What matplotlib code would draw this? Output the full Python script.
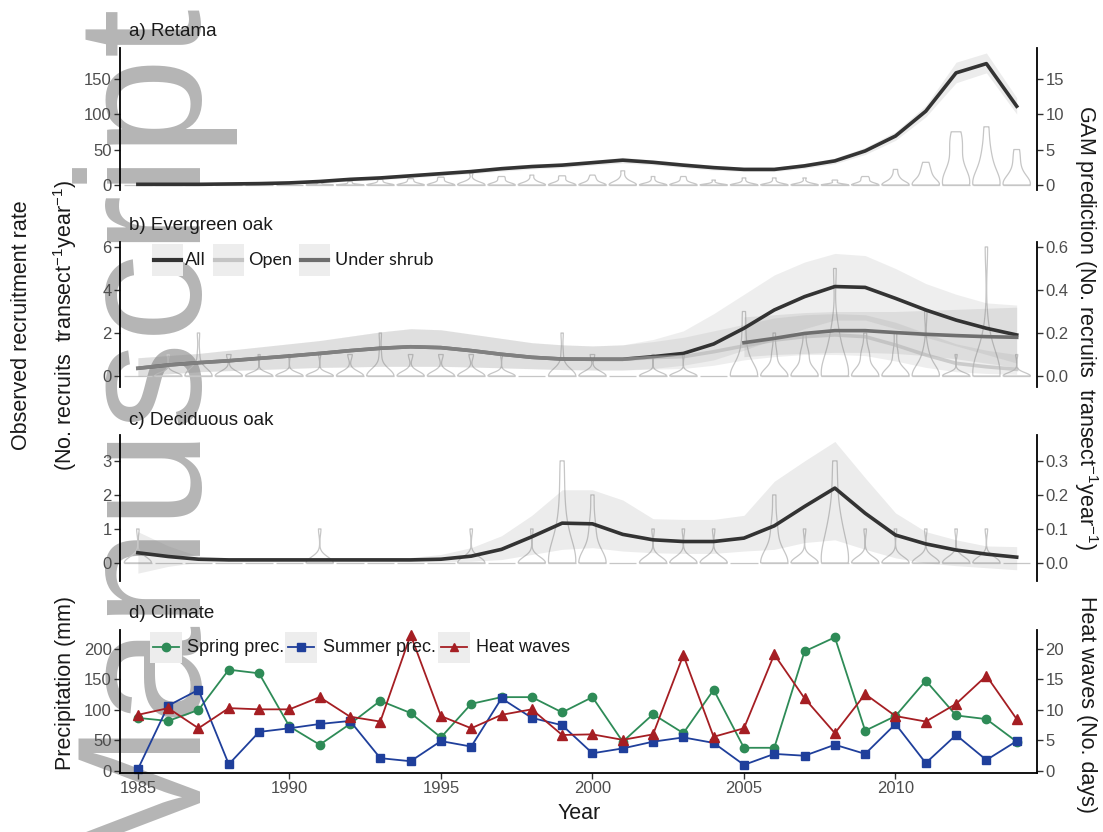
import numpy as np
import matplotlib
matplotlib.use("Agg")
import matplotlib.pyplot as plt
from matplotlib.lines import Line2D
from matplotlib.patches import Rectangle
from matplotlib.ticker import FormatStrFormatter

plt.rcParams["font.family"] = ["Liberation Sans", "DejaVu Sans"]
plt.rcParams["mathtext.fontset"] = "custom"
plt.rcParams["mathtext.rm"] = "Liberation Sans"
plt.rcParams["mathtext.default"] = "regular"

W, H = 1103, 832
SCALE = 10          # observed axis = 10 x prediction axis

years = list(range(1985, 2015))
shrub_years = list(range(2005, 2015))

# a) Retama: GAM prediction (recruits transect-1 year-1)
a_gam = [0.1, 0.1, 0.1, 0.15, 0.2, 0.3, 0.5, 0.8, 1.0, 1.3, 1.6, 1.9, 2.3, 2.6, 2.8,
         3.15, 3.5, 3.2, 2.8, 2.45, 2.2, 2.2, 2.7, 3.4, 4.8, 6.9, 10.4, 15.8, 17.1, 11.1]
a_lo = [0.0, 0.0, 0.0, 0.05, 0.1, 0.15, 0.3, 0.55, 0.75, 1.0, 1.3, 1.6, 1.95, 2.25, 2.45,
        2.8, 3.1, 2.85, 2.45, 2.1, 1.9, 1.9, 2.35, 3.0, 4.3, 6.3, 9.6, 14.4, 15.8, 10.0]
a_hi = [0.3, 0.3, 0.3, 0.3, 0.35, 0.45, 0.7, 1.05, 1.3, 1.6, 1.9, 2.2, 2.65, 2.95, 3.15,
        3.5, 3.9, 3.55, 3.15, 2.8, 2.5, 2.5, 3.05, 3.8, 5.3, 7.5, 11.2, 17.3, 18.6, 12.3]
# observed non-zero transect counts per year (rest of transects are zero)
a_counts = [[], [], [], [], [], [],
            [2, 4], [3, 5], [2, 5, 8], [3, 6, 9], [4, 8, 11], [3, 6, 17], [5, 9, 12],
            [4, 7, 14], [5, 10, 13], [6, 9, 14], [5, 10, 20], [6, 12], [4, 8, 12], [3, 7],
            [5, 10], [5, 10], [4, 10], [5, 7], [6, 9, 12], [8, 12, 22], [10, 16, 22, 32],
            [15, 25, 55, 58, 75], [20, 35, 50, 82], [10, 20, 35, 50]]

# b) Evergreen oak
b_all = [0.036, 0.051, 0.062, 0.071, 0.082, 0.093, 0.105, 0.118, 0.129, 0.136, 0.132, 0.118,
         0.101, 0.087, 0.079, 0.078, 0.078, 0.090, 0.105, 0.149, 0.222, 0.307, 0.369, 0.416,
         0.412, 0.361, 0.307, 0.260, 0.222, 0.191]
b_all_lo = [0.0, 0.01, 0.02, 0.025, 0.03, 0.035, 0.04, 0.042, 0.045, 0.045, 0.045, 0.042,
            0.038, 0.034, 0.030, 0.028, 0.028, 0.035, 0.050, 0.075, 0.120, 0.170, 0.220, 0.260,
            0.260, 0.220, 0.180, 0.140, 0.100, 0.060]
b_all_hi = [0.085, 0.095, 0.105, 0.120, 0.135, 0.150, 0.165, 0.185, 0.205, 0.220, 0.215, 0.195,
            0.175, 0.155, 0.145, 0.140, 0.145, 0.170, 0.210, 0.290, 0.380, 0.470, 0.530, 0.570,
            0.560, 0.500, 0.430, 0.380, 0.340, 0.330]
b_open = [0.036, 0.051, 0.062, 0.071, 0.082, 0.093, 0.105, 0.118, 0.129, 0.136, 0.132, 0.118,
          0.101, 0.087, 0.079, 0.078, 0.078, 0.086, 0.090, 0.113, 0.140, 0.167, 0.183, 0.191,
          0.183, 0.144, 0.098, 0.059, 0.043, 0.031]
b_open_lo = [0.0, 0.01, 0.02, 0.025, 0.03, 0.035, 0.04, 0.042, 0.045, 0.045, 0.045, 0.042,
             0.038, 0.034, 0.030, 0.028, 0.028, 0.032, 0.035, 0.050, 0.075, 0.090, 0.100, 0.100,
             0.095, 0.070, 0.040, 0.020, 0.012, 0.008]
b_open_hi = [0.085, 0.095, 0.105, 0.120, 0.135, 0.150, 0.165, 0.185, 0.205, 0.220, 0.215, 0.195,
             0.175, 0.155, 0.145, 0.140, 0.145, 0.160, 0.180, 0.210, 0.240, 0.270, 0.285, 0.290,
             0.285, 0.250, 0.200, 0.150, 0.120, 0.100]
b_shrub = [0.155, 0.175, 0.198, 0.211, 0.211, 0.202, 0.194, 0.188, 0.183, 0.180]
b_shrub_lo = [0.09, 0.10, 0.105, 0.11, 0.11, 0.105, 0.095, 0.08, 0.06, 0.04]
b_shrub_hi = [0.275, 0.285, 0.295, 0.30, 0.30, 0.30, 0.305, 0.31, 0.315, 0.32]
b_counts = [[], [1], [1, 2], [1, 1], [1], [1], [1], [1, 1], [1, 2], [1, 1], [1, 1], [1, 1],
            [1], [], [1, 2], [1, 1], [], [1], [1], [], [1, 1, 2, 3], [1, 1, 2], [1, 1, 1, 2],
            [1, 1, 2, 2, 5], [1, 1, 1, 2], [1, 1, 2], [1, 1, 3], [1], [1, 1, 2, 6], [1]]

# c) Deciduous oak
c_gam = [0.030, 0.019, 0.011, 0.009, 0.009, 0.009, 0.009, 0.009, 0.009, 0.009, 0.011, 0.020,
         0.040, 0.077, 0.117, 0.115, 0.084, 0.068, 0.063, 0.063, 0.073, 0.109, 0.166, 0.220,
         0.146, 0.082, 0.056, 0.038, 0.026, 0.017]
c_lo = [-0.030, -0.010, 0.002, 0.003, 0.003, 0.003, 0.003, 0.003, 0.003, 0.003, 0.003, 0.005,
        0.010, 0.025, 0.040, 0.045, 0.035, 0.030, 0.028, 0.028, 0.035, 0.040, 0.060, 0.068,
        0.040, 0.015, 0.000, -0.008, -0.014, -0.020]
c_hi = [0.092, 0.050, 0.020, 0.015, 0.015, 0.015, 0.015, 0.015, 0.015, 0.016, 0.025, 0.045,
        0.080, 0.140, 0.215, 0.215, 0.185, 0.130, 0.128, 0.128, 0.140, 0.240, 0.300, 0.357,
        0.250, 0.147, 0.092, 0.068, 0.050, 0.048]
c_counts = [[1], [], [], [], [], [], [1], [], [], [], [], [1], [], [1], [1, 1, 2, 3], [1, 1, 2],
            [], [1], [1], [1], [], [1, 1, 2], [1], [1, 1, 1, 2, 3], [1], [1], [1], [1], [1], []]

# d) Climate
spring = [87, 82, 100, 166, 160, 73, 43, 77, 115, 95, 55, 110, 121, 121, 96,
          121, 48, 93, 62, 133, 38, 38, 196, 219, 66, 90, 148, 91, 85, 48]
summer = [3, 107, 133, 11, 64, 70, 77, 82, 21, 16, 49, 40, 119, 87, 75,
          29, 37, 48, 55, 46, 10, 28, 25, 43, 28, 77, 13, 59, 18, 49]
heat = [9.2, 10.3, 7.0, 10.3, 10.1, 10.1, 12.1, 8.9, 8.1, 22.3, 9.0, 7.0, 9.2, 10.1, 5.9,
        6.0, 5.1, 6.0, 19.0, 5.6, 7.0, 19.1, 11.9, 6.2, 12.6, 9.0, 8.1, 11.0, 15.6, 8.5]

DARK, OPEN_C, SHRUB_C = "#333333", "#b4b4b4", "#6e6e6e"
VIOLIN = "#c6c6c6"
GREEN, BLUE, RED = "#2e8b57", "#1f3f9b", "#a51e23"
KEYBG = "#ededed"
LABEL_SIZE = 15.5

fig = plt.figure(figsize=(W / 100, H / 100), dpi=100)
fig.patch.set_facecolor("white")

# journal watermark, behind everything
fig.text(186 / W, 1 - 856 / H, "Manuscript", rotation=90, rotation_mode="anchor",
         ha="left", va="baseline", fontsize=127, color="#b5b5b5", zorder=-5)


def panel(top, bottom, ylim, yticks, rticks, rfmt, xaxis=False):
    ax = fig.add_axes([120 / W, 1 - bottom / H, 917 / W, (bottom - top) / H])
    ax.set_facecolor("none")
    ax.set_xlim(1984.41, 2014.67)
    ax.set_ylim(*ylim)
    ax.set_yticks(yticks)
    rax = ax.twinx()
    rax.set_ylim(ylim[0] / SCALE, ylim[1] / SCALE)
    rax.set_yticks(rticks)
    rax.yaxis.set_major_formatter(FormatStrFormatter(rfmt))
    for s in ["top", "bottom", "right"]:
        ax.spines[s].set_visible(False)
    for s in ["top", "bottom", "left"]:
        rax.spines[s].set_visible(False)
    if xaxis:
        ax.spines["bottom"].set_visible(True)
        ax.set_xticks([1985, 1990, 1995, 2000, 2005, 2010])
    else:
        ax.tick_params(axis="x", bottom=False, labelbottom=False)
    for a in (ax, rax):
        a.tick_params(length=4, width=1, color="#333333", labelcolor="#4d4d4d",
                      labelsize=12, pad=2)
        for sp in a.spines.values():
            sp.set_linewidth(1.3)
    return ax, rax


def draw_violins(ax, counts, n_transects):
    pos, data = [], []
    for yr, c in zip(years, counts):
        if c:
            pos.append(yr)
            data.append([0] * (n_transects - len(c)) + c)
    parts = ax.violinplot(data, positions=pos, widths=0.9, showextrema=False, points=200)
    for body in parts["bodies"]:
        body.set_alpha(1)
        body.set_facecolor("none")
        body.set_edgecolor(VIOLIN)
        body.set_linewidth(0.9)
    yr = np.array(years, dtype=float)
    ax.hlines(np.zeros_like(yr), yr - 0.45, yr + 0.45, color=VIOLIN, lw=0.9)


# a) Retama
ax, rax = panel(48, 190, (-7, 193), [0, 50, 100, 150], [0, 5, 10, 15], "%d")
draw_violins(ax, a_counts, 10)
rax.fill_between(years, a_lo, a_hi, color="gray", alpha=0.15, lw=0)
rax.plot(years, a_gam, color=DARK, lw=2.6)

# b) Evergreen oak
ax, rax = panel(242, 387, (-0.51, 6.23), [0, 2, 4, 6], [0, 0.2, 0.4, 0.6], "%.1f")
draw_violins(ax, b_counts, 14)
rax.fill_between(years, b_all_lo, b_all_hi, color="gray", alpha=0.13, lw=0)
rax.fill_between(years, b_open_lo, b_open_hi, color="gray", alpha=0.13, lw=0)
rax.fill_between(shrub_years, b_shrub_lo, b_shrub_hi, color="gray", alpha=0.15, lw=0)
rax.plot(years, b_all, color=DARK, lw=2.6)
rax.plot(years, b_open, color=OPEN_C, lw=2.6, alpha=0.6)
rax.plot(shrub_years, b_shrub, color=SHRUB_C, lw=2.6)

# c) Deciduous oak
ax, rax = panel(435, 581, (-0.53, 3.76), [0, 1, 2, 3], [0, 0.1, 0.2, 0.3], "%.1f")
draw_violins(ax, c_counts, 12)
rax.fill_between(years, c_lo, c_hi, color="gray", alpha=0.15, lw=0)
rax.plot(years, c_gam, color=DARK, lw=2.6)

# d) Climate
ax, rax = panel(630, 773, (-3.3, 231), [0, 50, 100, 150, 200], [0, 5, 10, 15, 20], "%d",
                xaxis=True)
ax.plot(years, spring, color=GREEN, marker="o", ms=6, lw=1.3, clip_on=False)
ax.plot(years, summer, color=BLUE, marker="s", ms=6, lw=1.3, clip_on=False)
rax.plot(years, heat, color=RED, marker="^", ms=7, lw=1.3, clip_on=False)

# panel titles
for txt, base in [("a) Retama", 36), ("b) Evergreen oak", 230.5),
                  ("c) Deciduous oak", 425), ("d) Climate", 618)]:
    fig.text(129 / W, 1 - base / H, txt, fontsize=13.5, va="baseline", ha="left",
             color="#1a1a1a")


def key_box(x0, y0, w=31, h=32):
    fig.add_artist(Rectangle((x0 / W, 1 - (y0 + h) / H), w / W, h / H,
                             transform=fig.transFigure, facecolor=KEYBG, edgecolor="none"))


# legend b
for label, col, kx, tx in [("All", DARK, 152, 185), ("Open", "#c4c4c4", 213, 248),
                           ("Under shrub", SHRUB_C, 299, 335)]:
    key_box(kx, 244)
    fig.add_artist(Line2D([(kx + 2) / W, (kx + 29) / W], [1 - 260 / H] * 2,
                          transform=fig.transFigure, color=col, lw=3))
    fig.text(tx / W, 1 - 260 / H, label, family="Lato", fontsize=13, va="center",
             color="#1a1a1a")

# legend d
for label, col, mk, kx, tx in [("Spring prec.", GREEN, "o", 150, 187),
                               ("Summer prec.", BLUE, "s", 285, 323),
                               ("Heat waves", RED, "^", 438, 476)]:
    key_box(kx, 632, 32, 31)
    fig.add_artist(Line2D([(kx + 3) / W, (kx + 16) / W, (kx + 29) / W], [1 - 647 / H] * 3,
                          transform=fig.transFigure, color=col, lw=1.3, marker=mk,
                          ms=6, markevery=[1]))
    fig.text(tx / W, 1 - 647 / H, label, fontsize=13, va="center", color="#1a1a1a")

# axis labels
fig.text(22 / W, 1 - 325 / H, "Observed recruitment rate", rotation=90, ha="center",
         va="center", fontsize=LABEL_SIZE, color="#1a1a1a")
fig.text(65 / W, 1 - 325 / H, "(No. recruits  transect$^{-1}$year$^{-1}$)", rotation=90,
         ha="center", va="center", fontsize=LABEL_SIZE, color="#1a1a1a")
fig.text(65 / W, 1 - 683 / H, "Precipitation (mm)", rotation=90, ha="center", va="center",
         fontsize=LABEL_SIZE, color="#1a1a1a")
fig.text(579 / W, 1 - 819 / H, "Year", ha="center", va="baseline", fontsize=LABEL_SIZE,
         color="#1a1a1a")
fig.text(1086 / W, 1 - 328 / H, "GAM prediction (No. recruits  transect$^{-1}$year$^{-1}$)",
         rotation=270, ha="center", va="center", fontsize=LABEL_SIZE, color="#1a1a1a")
fig.text(1086 / W, 1 - 705 / H, "Heat waves (No. days)", rotation=270, ha="center",
         va="center", fontsize=LABEL_SIZE, color="#1a1a1a")

fig.savefig("out.png", dpi=100)
